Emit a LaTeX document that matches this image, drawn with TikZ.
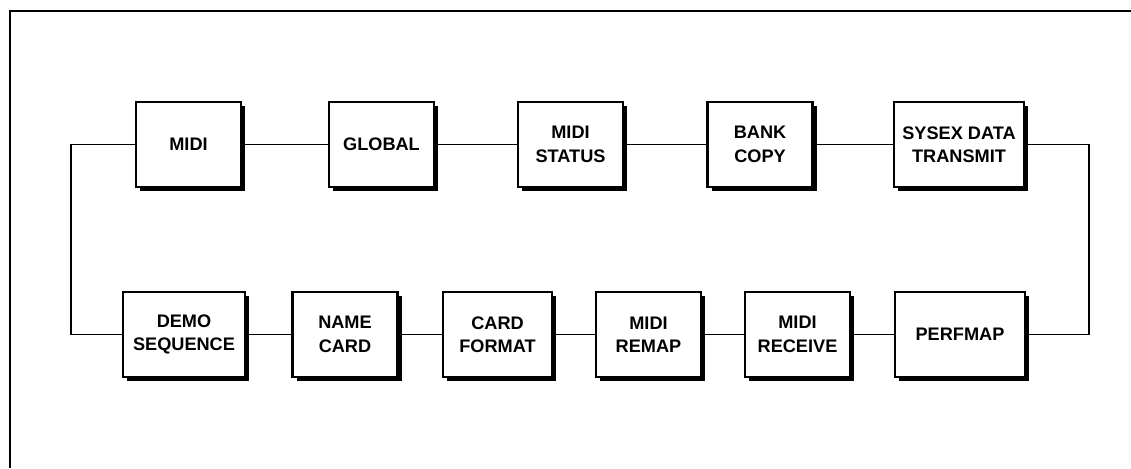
\documentclass[tikz,border=0pt]{standalone}
\usepackage{fontspec}
\setsansfont{Liberation Sans}
\usetikzlibrary{positioning, shadows}

\tikzset{
    menubox/.style={draw, line width=2.2pt, fill=white, align=center,
        minimum width=3.15cm, minimum height=2.55cm, inner sep=2pt,
        font=\sffamily\bfseries\fontsize{15.5}{20}\selectfont,
        drop shadow={shadow xshift=0.13cm, shadow yshift=-0.13cm, fill=black, opacity=1}},
    link/.style={line width=1.5pt},
    frame/.style={line width=2.4pt}
}

\begin{document}
\begin{tikzpicture}[x=0.03cm, y=-0.03cm]
                \useasboundingbox (0,0) rectangle (1131,468);
                \draw[frame] (1131,11) -| (10,468);
                % top row
                \node[menubox] (midi) at (188.5,144.5) {MIDI};
                \node[menubox] (global) at (381.5,144.5) {GLOBAL};
                \node[menubox] (status) at (570.5,144.5) {MIDI\\STATUS};
                \node[menubox] (bank) at (760,144.5) {BANK\\COPY};
                \node[menubox, minimum width=3.9cm] (sysex) at (959,144.5) {SYSEX DATA\\TRANSMIT};
                % bottom row
                \node[menubox, minimum width=3.66cm] (demo) at (184,334.5) {DEMO\\SEQUENCE};
                \node[menubox] (name) at (345,334.5) {NAME\\CARD};
                \node[menubox, minimum width=3.27cm] (format) at (497.5,334.5) {CARD\\FORMAT};
                \node[menubox] (remap) at (648.5,334.5) {MIDI\\REMAP};
                \node[menubox] (receive) at (797.5,334.5) {MIDI\\RECEIVE};
                \node[menubox, minimum width=3.9cm] (perfmap) at (960,334.5) {PERFMAP};
                % connectors
                \foreach \a/\b in {midi/global, global/status, status/bank, bank/sysex,
                    demo/name, name/format, format/remap, remap/receive, receive/perfmap}
                    \draw[link] (\a.east) -- (\b.west);
                \draw[link] (midi.west) -- ++(-64,0) |- (demo.west);
                \draw[link] (sysex.east) -- ++(64,0) |- (perfmap.east);
            \end{tikzpicture}
\end{document}
